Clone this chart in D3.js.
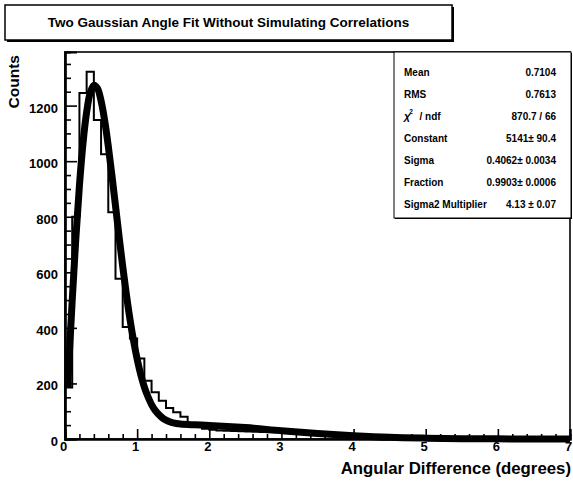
<!DOCTYPE html>
<html>
<head>
<meta charset="utf-8">
<script src="https://cdn.jsdelivr.net/npm/d3@7/dist/d3.min.js"></script>
<style>
  html, body { margin: 0; padding: 0; background: #fff; }
  svg { display: block; }
  text { font-family: "Liberation Sans", Arial, Helvetica, sans-serif; font-weight: bold; fill: #000; }
</style>
</head>
<body>
<svg id="chart" width="573" height="484"></svg>
<script>
// ---------------- data ----------------
const title = "Two Gaussian Angle Fit Without Simulating Correlations";
const xTitle = "Angular Difference (degrees)";
const yTitle = "Counts";
const binLow = 0, binHigh = 7, binWidth = 0.1;
const histCounts = [
  185, 800, 1245, 1322, 1148, 1025, 816, 577, 403, 362,
  290, 210, 168, 138, 112, 96, 80, 56, 44, 37,
  33, 31, 30, 29, 28, 27, 26, 25, 24, 23,
  22, 21, 20, 19, 18, 17, 16, 15, 14, 13,
  12, 11, 10, 10, 9, 8, 8, 7, 7, 6,
  6, 5, 5, 5, 4, 4, 4, 3, 3, 3,
  3, 2, 2, 2, 2, 2, 1, 1, 1, 1
];
const fitX = [0.036, 0.1, 0.15, 0.2, 0.25, 0.3, 0.35, 0.4, 0.45, 0.5, 0.55, 0.6, 0.65, 0.7, 0.75, 0.8, 0.85, 0.9, 0.95, 1.0,
              1.05, 1.1, 1.15, 1.2, 1.25, 1.3, 1.35, 1.4, 1.45, 1.5, 1.6, 1.8, 2.0, 2.5, 3.0, 3.5, 4.0, 4.5, 5.0, 5.5, 6.0, 6.5, 7.0];
const fitY = [184, 499, 721, 912, 1066, 1177, 1247, 1273, 1262, 1217, 1146, 1054, 950, 839, 728, 621, 522, 432, 354, 288,
              232, 187, 152, 124, 103, 88, 76, 68, 62, 58, 54, 51, 49, 41, 30, 20, 12, 6, 3, 1.3, 0.5, 0.2, 0.05];
const xMajorTicks = [0, 1, 2, 3, 4, 5, 6, 7];
const yMajorTicks = [0, 200, 400, 600, 800, 1000, 1200];
const statLabels = ["Mean", "RMS", "chi2", "Constant", "Sigma", "Fraction", "Sigma2 Multiplier"];
const statValues = ["0.7104", "0.7613", "870.7 / 66", "5141\u00b1 90.4", "0.4062\u00b1 0.0034", "0.9903\u00b1 0.0006", "4.13 \u00b1 0.07"];

// ---------------- layout ----------------
const frame = { left: 65, right: 570, top: 52, bottom: 439 };
const yMax = 1393;

const svg = d3.select("#chart");
svg.append("rect").attr("width", 573).attr("height", 484).attr("fill", "#fff");

const x = d3.scaleLinear().domain([binLow, binHigh]).range([frame.left, frame.right]);
const y = d3.scaleLinear().domain([0, yMax]).range([frame.bottom, frame.top]);

// frame
svg.append("rect")
  .attr("x", frame.left).attr("y", frame.top)
  .attr("width", frame.right - frame.left).attr("height", frame.bottom - frame.top)
  .attr("fill", "none").attr("stroke", "#000").attr("stroke-width", 1.6);

// histogram outline
const histPts = [[binLow, 0]];
histCounts.forEach((c, i) => {
  histPts.push([binLow + i * binWidth, c]);
  histPts.push([binLow + (i + 1) * binWidth, c]);
});
histPts.push([binHigh, 0]);
svg.append("path")
  .attr("d", d3.line().x(d => x(d[0])).y(d => y(d[1]))(histPts))
  .attr("fill", "none").attr("stroke", "#000").attr("stroke-width", 2)
  .attr("stroke-linejoin", "miter");

// fit curve
const fitPts = fitX.map((v, i) => [v, fitY[i]]);
svg.append("path")
  .attr("d", d3.line().x(d => x(d[0])).y(d => y(d[1])).curve(d3.curveCatmullRom)(fitPts))
  .attr("fill", "none").attr("stroke", "#000").attr("stroke-width", 7)
  .attr("stroke-linejoin", "round");

// x axis
const xMinor = d3.range(0, 7.0001, 0.2).map(v => +v.toFixed(2)).filter(v => !xMajorTicks.includes(v));
const gxMinor = svg.append("g").attr("transform", `translate(0,${frame.bottom})`)
  .call(d3.axisBottom(x).tickValues(xMinor).tickSize(-5).tickFormat(""));
const gx = svg.append("g").attr("transform", `translate(0,${frame.bottom})`)
  .call(d3.axisBottom(x).tickValues(xMajorTicks).tickSize(-10).tickPadding(3).tickFormat(d3.format("d")));
[gx, gxMinor].forEach(g => {
  g.selectAll("line").attr("stroke", "#000").attr("stroke-width", 1.6);
  g.select(".domain").attr("stroke", "#000").attr("stroke-width", 2.2);
});
gx.selectAll("text").attr("font-size", 13).attr("font-family", null).attr("dx", -2);

// y axis
const yMinor = d3.range(0, yMax, 50).filter(v => !yMajorTicks.includes(v));
const gyMinor = svg.append("g").attr("transform", `translate(${frame.left},0)`)
  .call(d3.axisLeft(y).tickValues(yMinor).tickSize(-6).tickFormat(""));
const gy = svg.append("g").attr("transform", `translate(${frame.left},0)`)
  .call(d3.axisLeft(y).tickValues(yMajorTicks).tickSize(-12).tickPadding(7).tickFormat(d3.format("d")));
[gy, gyMinor].forEach(g => {
  g.selectAll("line").attr("stroke", "#000").attr("stroke-width", 1.6);
  g.select(".domain").attr("stroke", "#000").attr("stroke-width", 2.2);
});
gy.selectAll("text").attr("font-size", 13).attr("font-family", null).attr("dy", "0.5em");

// axis titles
svg.append("text").attr("x", frame.right + 1).attr("y", 474)
  .attr("text-anchor", "end").attr("font-size", 16.8).text(xTitle);
svg.append("text").attr("transform", `translate(19,55) rotate(-90)`)
  .attr("text-anchor", "end").attr("font-size", 15.5).text(yTitle);

// title box
svg.append("rect").attr("x", 7).attr("y", 7).attr("width", 447).attr("height", 35).attr("fill", "#000");
svg.append("rect").attr("x", 5).attr("y", 5).attr("width", 447).attr("height", 35)
  .attr("fill", "#fff").attr("stroke", "#000").attr("stroke-width", 1.5);
svg.append("text").attr("x", 228.5).attr("y", 27).attr("text-anchor", "middle")
  .attr("font-size", 13.5).text(title);

// stats box
const sb = { x: 394, y: 52, w: 177, h: 166 };
svg.append("rect").attr("x", sb.x + 1).attr("y", sb.y + 1).attr("width", sb.w).attr("height", sb.h).attr("fill", "#000");
svg.append("rect").attr("x", sb.x).attr("y", sb.y).attr("width", sb.w).attr("height", sb.h)
  .attr("fill", "#fff").attr("stroke", "#000").attr("stroke-width", 1);
const rowY = d3.scalePoint().domain(d3.range(statLabels.length)).range([76, 208]);
statLabels.forEach((lab, i) => {
  const t = svg.append("text").attr("x", 404).attr("y", rowY(i)).attr("font-size", 10);
  if (lab === "chi2") {
    t.append("tspan").attr("font-size", 11).attr("font-style", "italic").text("\u03c7");
    t.append("tspan").attr("font-size", 6.5).attr("dx", -1).attr("dy", -6).text("2");
    t.append("tspan").attr("dy", 6).attr("dx", 1).text("  / ndf");
    t.attr("xml:space", "preserve");
  } else {
    t.text(lab);
  }
  svg.append("text").attr("x", 556).attr("y", rowY(i)).attr("text-anchor", "end")
    .attr("font-size", 10).text(statValues[i]);
});
</script>
</body>
</html>
